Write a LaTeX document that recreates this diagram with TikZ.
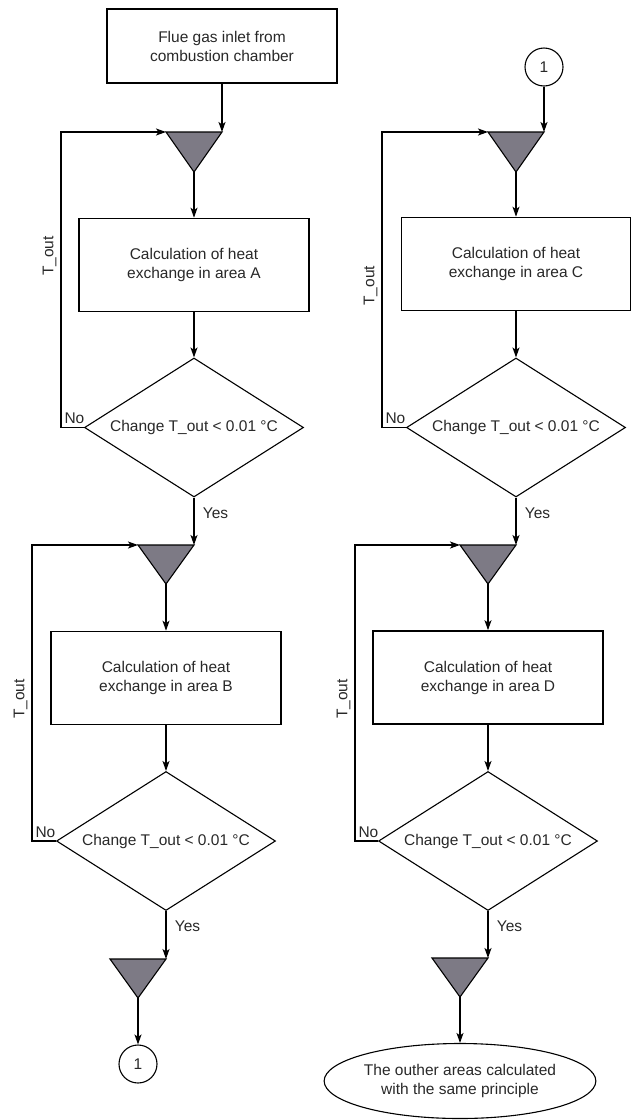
\documentclass[tikz,border=0pt]{standalone}
\usepackage{fontspec}
\setmainfont{Liberation Sans}
\usetikzlibrary{shapes.geometric,arrows.meta}
\definecolor{funnelgray}{RGB}{125,122,133}
\definecolor{inkgray}{RGB}{40,40,40}

\begin{document}
\begin{tikzpicture}
	[x=1pt,y=-1pt,
	font=\fontsize{15.5}{19}\selectfont,
	text=inkgray,
	calc/.style={draw,line width=1.6pt,minimum width=230pt,minimum height=93pt,align=center,inner sep=0pt},
	check/.style={diamond,draw,line width=1.1pt,shape aspect=1.58,minimum width=219pt,minimum height=139pt,inner sep=0pt},
	connector/.style={circle,draw,line width=1.1pt,minimum size=38pt,inner sep=0pt},
	funnel/.style={fill=funnelgray,draw=black,line width=1.1pt,line join=miter},
	flow/.style={line width=1.2pt,-{Stealth[length=10pt,width=7pt,inset=2.5pt]}},
	lblyes/.style={right=5pt,pos=0.32},
	lblno/.style={above right,inner sep=3pt},
	lbltout/.style={rotate=90,above,inner sep=4pt}]
	\useasboundingbox (0,0) rectangle (630,1120);
	% left column
	\node[calc,minimum height=74pt] (inlet) at (222,46) {Flue gas inlet from\\combustion chamber};
	\coordinate (mixA) at (222,132);
	\filldraw[funnel] (mixA) -- ++(-56,0) coordinate (mixAl) -- ++(28,40) coordinate (mixAb) -- cycle;
	\node[calc] (calcA) at (194,265) {Calculation of heat\\exchange in area A};
	\node[check] (chkA) at (194,427.5) {Change T\_out < 0.01 °C};
	\coordinate (mixB) at (194,545);
	\filldraw[funnel] (mixB) -- ++(-56,0) coordinate (mixBl) -- ++(28,39) coordinate (mixBb) -- cycle;
	\node[calc] (calcB) at (166,678) {Calculation of heat\\exchange in area B};
	\node[check] (chkB) at (166,841) {Change T\_out < 0.01 °C};
	\coordinate (mixL) at (166,959);
	\filldraw[funnel] (mixL) -- ++(-56,0) coordinate (mixLl) -- ++(28,39) coordinate (mixLb) -- cycle;
	\node[connector] (conn1) at (138,1064) {1};

	\draw[flow] (inlet) -- (mixA);
	\draw[flow] (mixAb) -- (calcA);
	\draw[flow] (calcA) -- (chkA);
	\draw[flow] (chkA) -- node[lblyes]{Yes} (mixB);
	\draw[flow] (chkA.west) -- ++(-23,0) node[lblno]{No} |- node[lbltout,pos=0.29]{T\_out} (mixAl);
	\draw[flow] (mixBb) -- (calcB);
	\draw[flow] (calcB) -- (chkB);
	\draw[flow] (chkB) -- node[lblyes]{Yes} (mixL);
	\draw[flow] (chkB.west) -- ++(-24,0) node[lblno]{No} |- node[lbltout,pos=0.24]{T\_out} (mixBl);
	\draw[flow] (mixLb) -- (conn1);

	% right column
	\node[connector] (conn2) at (544,67) {1};
	\coordinate (mixC) at (544,132);
	\filldraw[funnel] (mixC) -- ++(-56,0) coordinate (mixCl) -- ++(28,40) coordinate (mixCb) -- cycle;
	\node[calc,minimum width=229pt] (calcC) at (516,264) {Calculation of heat\\exchange in area C};
	\node[check] (chkC) at (516,427.5) {Change T\_out < 0.01 °C};
	\coordinate (mixD) at (516,545);
	\filldraw[funnel] (mixD) -- ++(-56,0) coordinate (mixDl) -- ++(28,39) coordinate (mixDb) -- cycle;
	\node[calc] (calcD) at (488,677.5) {Calculation of heat\\exchange in area D};
	\node[check] (chkD) at (488,841) {Change T\_out < 0.01 °C};
	\coordinate (mixE) at (488,958);
	\filldraw[funnel] (mixE) -- ++(-56,0) coordinate (mixEl) -- ++(28,39) coordinate (mixEb) -- cycle;
	\node[ellipse,draw,line width=1.1pt,minimum width=216pt,minimum height=75pt,align=center,inner sep=0pt] (outer) at (460,1081) {The outher areas calculated\\with the same principle};

	\draw[flow] (conn2) -- (mixC);
	\draw[flow] (mixCb) -- (calcC);
	\draw[flow] (calcC) -- (chkC);
	\draw[flow] (chkC) -- node[lblyes]{Yes} (mixD);
	\draw[flow] (chkC.west) -- ++(-24,0) node[lblno]{No} |- node[lbltout,pos=0.24]{T\_out} (mixCl);
	\draw[flow] (mixDb) -- (calcD);
	\draw[flow] (calcD) -- (chkD);
	\draw[flow] (chkD) -- node[lblyes]{Yes} (mixE);
	\draw[flow] (chkD.west) -- ++(-23,0) node[lblno]{No} |- node[lbltout,pos=0.24]{T\_out} (mixDl);
	\draw[flow] (mixEb) -- (outer);
\end{tikzpicture}
\end{document}
